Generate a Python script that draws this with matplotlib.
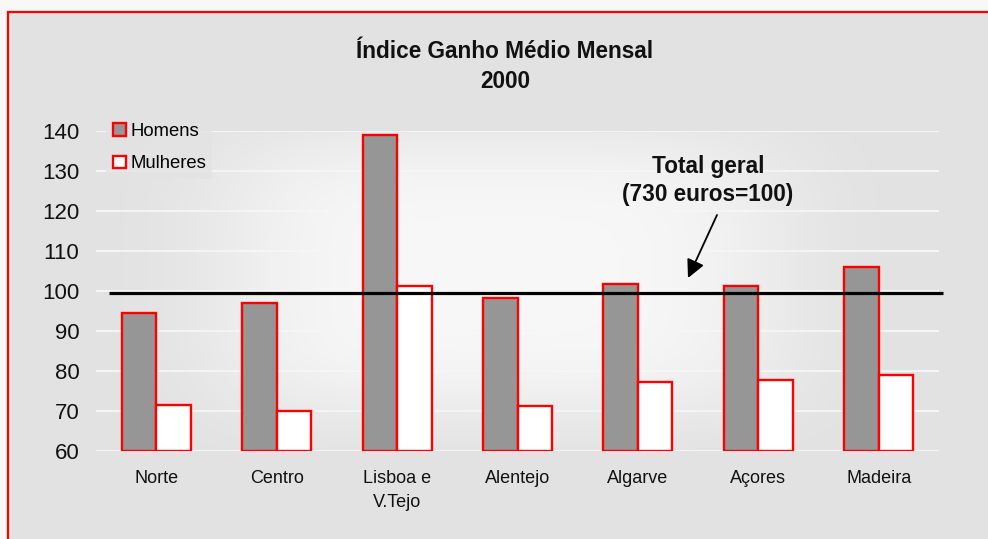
import numpy as np
import matplotlib
matplotlib.use("Agg")
import matplotlib.pyplot as plt
from matplotlib.patches import Rectangle, Patch

plt.rcParams['font.family'] = ['Liberation Sans', 'DejaVu Sans']

categories = ["Norte", "Centro", "Lisboa e\nV.Tejo", "Alentejo", "Algarve", "Açores", "Madeira"]
homens = [94.5, 96.9, 138.9, 98.1, 101.7, 101.1, 105.9]
mulheres = [71.5, 69.9, 101.2, 71.2, 77.1, 77.7, 78.9]
total_geral = 99.5
yticks = [60, 70, 80, 90, 100, 110, 120, 130, 140]

W, H = 988, 539
fig = plt.figure(figsize=(W/100, H/100), dpi=100, facecolor="#f8f8f8")

# chart area background and red border
bg = Rectangle((8/W, -0.2), 1.2, 1.2 - 12/H, transform=fig.transFigure,
               facecolor="#e2e2e2", edgecolor="red", linewidth=1.6, zorder=-10)
fig.patches.append(bg)

left, right = 96/W, 939/W
bottom, top = 1 - 450.7/H, 1 - 130.7/H
ax = fig.add_axes([left, bottom, right-left, top-bottom])
ax.set_facecolor("none")
ax.set_zorder(1)

# soft light gradient behind plot
gx = np.linspace(0, 1, 300)
gy = np.linspace(0, 1, 200)
X, Y = np.meshgrid(gx, gy)
f = np.exp(-(((X-0.48)/0.34)**4 + ((Y-0.45)/0.45)**4))
img = np.zeros((200, 300, 4))
img[..., 0:3] = 1.0
img[..., 3] = 0.75 * f
ax.imshow(img, extent=[0, 1, 0, 1], transform=ax.transAxes, aspect="auto",
          zorder=0, interpolation="bilinear")

x = np.arange(len(categories))
bw = 0.287
ax.bar(x - bw/2, [h - 60 for h in homens], bw, bottom=60, color="#969696",
       edgecolor="red", linewidth=1.7, zorder=3, label="Homens")
ax.bar(x + bw/2, [m - 60 for m in mulheres], bw, bottom=60, color="white",
       edgecolor="red", linewidth=1.7, zorder=3, label="Mulheres")

ax.set_xlim(-0.5, len(categories) - 0.5)
ax.set_ylim(60, 140)
ax.set_yticks(yticks)
ax.set_yticklabels([str(t) for t in yticks], fontsize=16, color="#111111")
ax.set_xticks(x)
ax.set_xticklabels(categories, fontsize=13, color="#111111", linespacing=1.55)
ax.tick_params(axis="both", length=0)
ax.tick_params(axis="y", pad=12)
ax.tick_params(axis="x", pad=14)
for s in ax.spines.values():
    s.set_visible(False)
ax.grid(axis="y", color="#f6f6f6", linewidth=1.3, zorder=1)
ax.set_axisbelow(True)

# reference line
ax.plot([-0.392, 6.533], [total_geral, total_geral], color="black",
        linewidth=2.3, zorder=5, clip_on=False, solid_capstyle="butt")

# legend
handles = [Patch(facecolor="#969696", edgecolor="red", linewidth=1.7, label="Homens"),
           Patch(facecolor="white", edgecolor="red", linewidth=1.7, label="Mulheres")]
leg = ax.legend(handles=handles, loc="upper left", bbox_to_anchor=(0.012, 1.045),
                frameon=True, fontsize=13.3, handlelength=0.7, handleheight=0.7,
                handletextpad=0.25, labelspacing=0.85, borderpad=0.35,
                borderaxespad=0.0, fancybox=False)
leg.get_frame().set_facecolor("#e3e3e3")
leg.get_frame().set_edgecolor("none")
leg.set_zorder(6)

# title
fig.text(505/W, 1 - 52/H, "Índice Ganho Médio Mensal", ha="center", va="center",
         fontsize=16.3, fontweight="bold", color="#111111")
fig.text(505/W, 1 - 82/H, "2000", ha="center", va="center",
         fontsize=16.3, fontweight="bold", color="#111111")

# annotation
fig.text(708/W, 1 - 166/H, "Total geral", ha="center", va="center",
         fontsize=16.3, fontweight="bold", color="#111111")
fig.text(708/W, 1 - 195/H, "(730 euros=100)", ha="center", va="center",
         fontsize=16.3, fontweight="bold", color="#111111")
ax.annotate("", xy=(688/W, 1 - 278/H), xycoords="figure fraction",
            xytext=(717/W, 1 - 215/H), textcoords="figure fraction",
            arrowprops=dict(arrowstyle="-|>,head_length=1.1,head_width=0.55",
                            color="black", linewidth=1.3, shrinkA=0, shrinkB=0))

fig.savefig("out.png", dpi=100, facecolor=fig.get_facecolor())
